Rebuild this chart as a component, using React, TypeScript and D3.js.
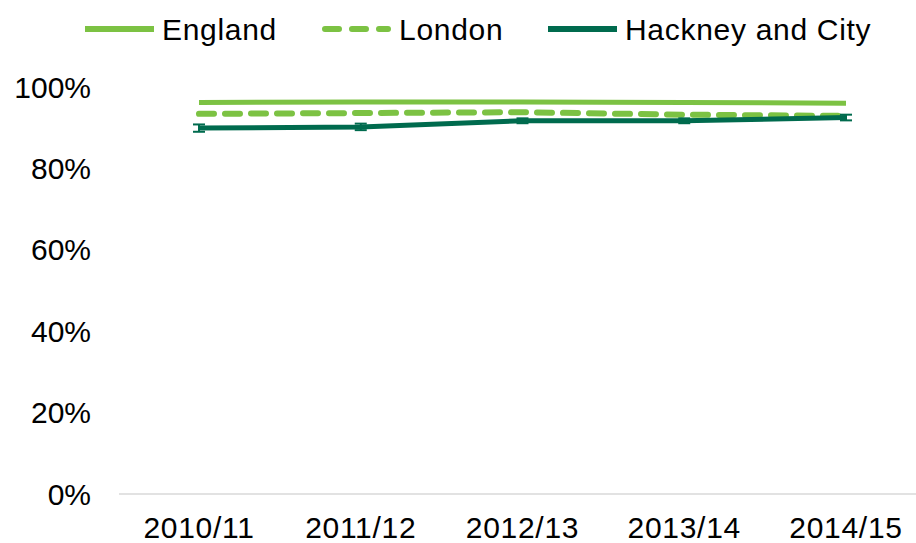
import React, { useEffect, useRef } from "react";
import * as d3 from "d3";

const years = ["2010/11", "2011/12", "2012/13", "2013/14", "2014/15"];
const england = [96.2, 96.3, 96.3, 96.2, 96.0];
const london = [93.4, 93.6, 93.8, 93.2, 92.9];
const hackney = [89.9, 90.2, 91.7, 91.7, 92.5];
const hackneyLow = [89.0, 89.4, 91.1, 91.1, 91.8];
const hackneyHigh = [90.8, 91.0, 92.3, 92.3, 93.2];
const yTicks = [0, 20, 40, 60, 80, 100];

const W = 916;
const H = 543;
const LIGHT = "#7cc243";
const DARK = "#006b4e";

export default function App() {
    const ref = useRef<SVGSVGElement>(null);

    useEffect(() => {
        const svg = d3.select(ref.current);
        svg.selectAll("*").remove();

        const x = d3.scalePoint().domain(years).range([199, 846]);
        const y = d3.scaleLinear().domain([0, 100]).range([494, 87]);

        const g = svg.append("g")
            .attr("font-family", "Liberation Sans, Arial, sans-serif")
            .attr("letter-spacing", 0.7);

        // baseline
        g.append("line")
            .attr("x1", 119).attr("x2", W)
            .attr("y1", y(0)).attr("y2", y(0))
            .attr("stroke", "#d9d9d9").attr("stroke-width", 1.5);

        // y tick labels
        g.append("g")
            .selectAll("text")
            .data(yTicks)
            .join("text")
            .attr("x", 91)
            .attr("y", (d) => y(d))
            .attr("dy", "0.35em")
            .attr("text-anchor", "end")
            .attr("letter-spacing", 0)
            .attr("font-size", 30)
            .attr("fill", "#000")
            .text((d) => d + "%");

        // x tick labels
        g.append("g")
            .selectAll("text")
            .data(years)
            .join("text")
            .attr("x", (d) => x(d))
            .attr("y", 538)
            .attr("text-anchor", "middle")
            .attr("font-size", 30)
            .attr("fill", "#000")
            .text((d) => d);

        const line = d3.line<number>()
            .x((d, i) => x(years[i]))
            .y((d) => y(d));

        g.append("path")
            .datum(england)
            .attr("d", line)
            .attr("fill", "none")
            .attr("stroke", LIGHT)
            .attr("stroke-width", 5);

        g.append("path")
            .datum(london)
            .attr("d", line)
            .attr("fill", "none")
            .attr("stroke", LIGHT)
            .attr("stroke-width", 6)
            .attr("stroke-linecap", "round")
            .attr("stroke-dasharray", "15,11");

        // hackney error bars
        const eb = g.append("g").attr("stroke", DARK).attr("stroke-width", 2);
        years.forEach((yr, i) => {
            const cx = x(yr);
            eb.append("line").attr("x1", cx).attr("x2", cx).attr("y1", y(hackneyLow[i])).attr("y2", y(hackneyHigh[i]));
            eb.append("line").attr("x1", cx - 6).attr("x2", cx + 6).attr("y1", y(hackneyLow[i])).attr("y2", y(hackneyLow[i]));
            eb.append("line").attr("x1", cx - 6).attr("x2", cx + 6).attr("y1", y(hackneyHigh[i])).attr("y2", y(hackneyHigh[i]));
        });

        g.append("path")
            .datum(hackney)
            .attr("d", line)
            .attr("fill", "none")
            .attr("stroke", DARK)
            .attr("stroke-width", 5);

        // legend
        const legend = [
            { name: "England", color: LIGHT, dash: null, x0: 85 },
            { name: "London", color: LIGHT, dash: "14,13", x0: 322 },
            { name: "Hackney and City", color: DARK, dash: null, x0: 548 },
        ];
        const lg = g.append("g").selectAll("g").data(legend).join("g");
        lg.append("line")
            .attr("x1", (d) => d.x0 + (d.dash ? 3 : 0))
            .attr("x2", (d) => d.x0 + 69 - (d.dash ? 3 : 0))
            .attr("y1", 29).attr("y2", 29)
            .attr("stroke", (d) => d.color)
            .attr("stroke-width", 6)
            .attr("stroke-linecap", (d) => (d.dash ? "round" : "butt"))
            .attr("stroke-dasharray", (d) => d.dash);
        lg.append("text")
            .attr("x", (d) => d.x0 + 77)
            .attr("y", 29)
            .attr("dy", "0.35em")
            .attr("font-size", 30)
            .attr("fill", "#000")
            .text((d) => d.name);
    }, []);

    return (
        <svg
            ref={ref}
            width={W}
            height={H}
            style={{ position: "absolute", left: 0, top: 0, background: "#fff" }}
        />
    );
}
